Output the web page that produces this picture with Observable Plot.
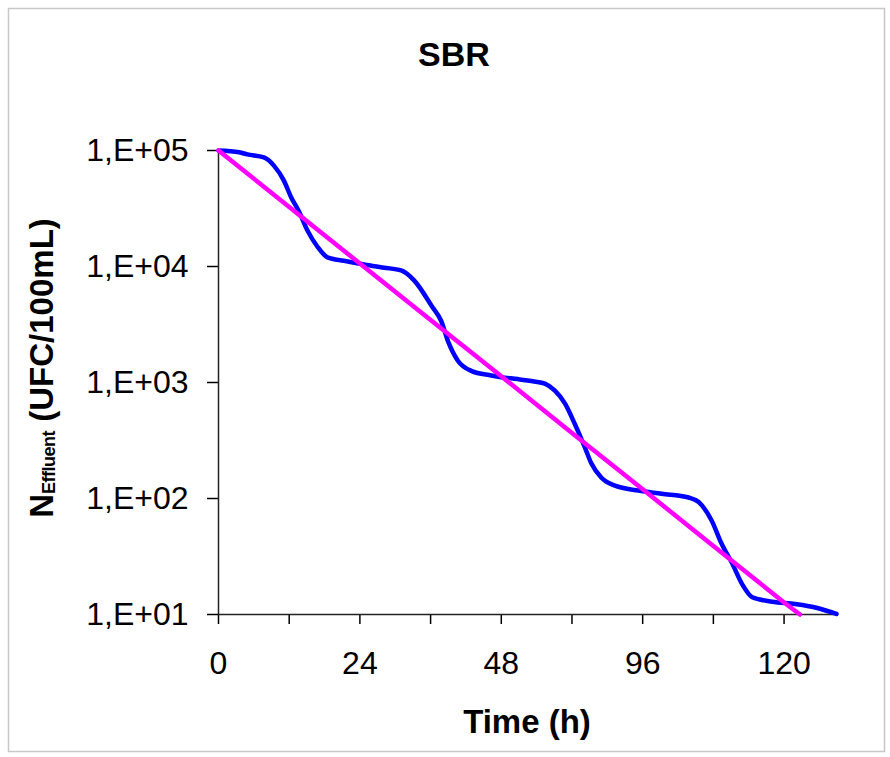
<!DOCTYPE html>
<html><head><meta charset="utf-8">
<script src="https://cdn.jsdelivr.net/npm/d3@7"></script>
<script src="https://cdn.jsdelivr.net/npm/@observablehq/plot@0.6"></script>
<style>body{margin:0;background:#fff} svg{display:block}</style>
</head><body><div id="chart"></div>
<script>
const title = "SBR";
const xLabel = "Time (h)";
const yLabelMain = "N";
const yLabelSub = "Effluent";
const yLabelRest = " (UFC/100mL)";

// Blue series, time in axis units, N in UFC/100mL
const blueTime = [0, 3.5, 4.9, 7.7, 9.4, 11.1, 12.3, 13.7, 15.1, 16.8, 18.5, 21.3, 24.7, 28.1, 31.0, 33.2, 36.3, 37.8, 39.0, 40.6, 42.9, 46.3, 48.0, 50.8, 53.6, 55.4, 57.1, 58.8, 60.5, 62.2, 63.3, 65.0, 67.3, 71.3, 75.2, 79.8, 81.5, 83.7, 85.4, 87.2, 88.9, 90.6, 94.0, 97.9, 101.3, 104.9];
const blueN = [100000, 96600, 92500, 87100, 74100, 55000, 39800, 29500, 20400, 14800, 12000, 11200, 10400, 9770, 9250, 7590, 4470, 3390, 2240, 1550, 1260, 1150, 1110, 1070, 1020, 977, 851, 661, 437, 275, 200, 151, 129, 117, 110, 102, 93.3, 64.6, 40.7, 27.5, 18.2, 14.1, 12.9, 12.3, 11.5, 10.1];

// Magenta series (straight log-linear decay)
const magentaTime = [0, 12, 24, 36, 48, 60, 72, 84, 96, 98.7];
const magentaN = [100000, 32600, 10600, 3450, 1130, 367, 120, 39.0, 12.7, 10];

const xTickPos = [0, 12, 24, 36, 48, 60, 72, 84, 96];
const xTickLabels = ["0", "", "24", "", "48", "", "96", "", "120"];
const yTickPos = [10, 100, 1000, 10000, 100000];
const yTickLabels = ["1,E+01", "1,E+02", "1,E+03", "1,E+04", "1,E+05"];

const blue = blueTime.map((t, i) => ({t, n: blueN[i]}));
const magenta = magentaTime.map((t, i) => ({t, n: magentaN[i]}));

const font = "'Liberation Sans', Arial, sans-serif";

const plot = Plot.plot({
  width: 890, height: 757,
  marginLeft: 218, marginRight: 54, marginTop: 150, marginBottom: 143,
  style: {fontFamily: font, fontSize: "32px", color: "#000", background: "#fff", overflow: "visible"},
  x: {domain: [0, 104.9]},
  y: {type: "log", domain: [10, 100000]},
  marks: [
    Plot.axisY({ticks: yTickPos, tickFormat: d => yTickLabels[yTickPos.indexOf(d)], tickSize: 11, tickPadding: 19, label: null, strokeWidth: 1.5, fontSize: 32}),
    Plot.axisX({ticks: xTickPos, tickFormat: d => xTickLabels[xTickPos.indexOf(d)], tickSize: 10, tickPadding: 27, label: null, strokeWidth: 1.5, fontSize: 32}),
    Plot.ruleX([0], {stroke: "#222", strokeWidth: 1.5}),
    Plot.ruleY([10], {stroke: "#222", strokeWidth: 1.5}),
    Plot.line(blue, {x: "t", y: "n", stroke: "#0000ff", strokeWidth: 4.5, curve: "monotone-x"}),
    Plot.line(magenta, {x: "t", y: "n", stroke: "#ff00ff", strokeWidth: 4.5, curve: "linear"})
  ]
});

document.getElementById("chart").appendChild(plot);
const svg = d3.select(plot);

svg.insert("rect", ":first-child")
  .attr("x", 8.5).attr("y", 8.5).attr("width", 876).attr("height", 743)
  .attr("fill", "none").attr("stroke", "#c8c8c8").attr("stroke-width", 1.5);

svg.append("text").text(title)
  .attr("x", 454).attr("y", 66).attr("text-anchor", "middle")
  .attr("font-family", font).attr("font-weight", "bold").attr("font-size", 34).attr("fill", "#000");

svg.append("text").text(xLabel)
  .attr("x", 527).attr("y", 733).attr("text-anchor", "middle")
  .attr("font-family", font).attr("font-weight", "bold").attr("font-size", 33).attr("fill", "#000");

const yl = svg.append("text")
  .attr("transform", "translate(53,368) rotate(-90)").attr("text-anchor", "middle")
  .attr("font-family", font).attr("font-weight", "bold").attr("font-size", 33).attr("fill", "#000");
yl.append("tspan").text(yLabelMain);
yl.append("tspan").text(yLabelSub).attr("font-size", 18).attr("dy", 2).attr("letter-spacing", -0.5);
yl.append("tspan").text(yLabelRest).attr("dy", -2);
</script>
</body></html>
